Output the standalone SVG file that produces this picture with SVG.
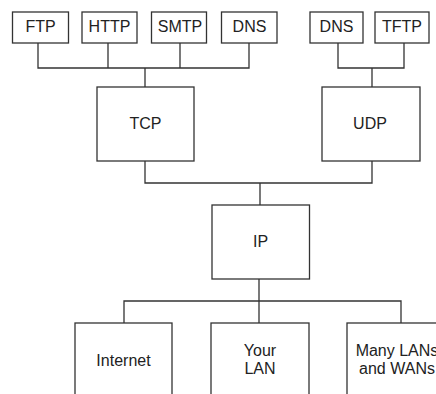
<svg xmlns="http://www.w3.org/2000/svg" width="436" height="394" viewBox="0 0 436 394">
<style>
.box{fill:#fff;stroke:#333;stroke-width:1.3}
.ln{fill:none;stroke:#333;stroke-width:1.3}
text{font-family:"Liberation Sans",Arial,sans-serif;font-size:16px;fill:#222;text-anchor:middle}
</style>
<rect width="436" height="394" fill="#fff"/>
<g id="connectors" class="ln">
<path d="M38 43V68H249V43M108 43V68M180 43V68M145 68V87"/>
<path d="M338 43V68H404V43M372 68V87"/>
<path d="M145 161V183H372V161M260 183V205"/>
<path d="M259 279V323M124 323V301H401V323"/>
</g>
<g id="ftp"><rect class="box" x="12.5" y="12" width="56" height="31"/><text x="40.5" y="32">FTP</text></g>
<g id="http"><rect class="box" x="82" y="12" width="55" height="31"/><text x="109.5" y="32">HTTP</text></g>
<g id="smtp"><rect class="box" x="151.5" y="12" width="55" height="31"/><text x="180" y="32">SMTP</text></g>
<g id="dns1"><rect class="box" x="221.5" y="12" width="55.5" height="31"/><text x="249.5" y="32">DNS</text></g>
<g id="dns2"><rect class="box" x="310" y="12" width="53" height="31"/><text x="336.5" y="32">DNS</text></g>
<g id="tftp"><rect class="box" x="375" y="12" width="54" height="31"/><text x="402" y="32">TFTP</text></g>
<g id="tcp"><rect class="box" x="97" y="87" width="97" height="74"/><text x="145.5" y="129.3">TCP</text></g>
<g id="udp"><rect class="box" x="322" y="87" width="98" height="74"/><text x="370" y="129.3">UDP</text></g>
<g id="ip"><rect class="box" x="212" y="205" width="97.5" height="74"/><text x="260.5" y="247">IP</text></g>
<g id="internet"><rect class="box" x="75" y="323" width="97" height="80"/><text x="123.5" y="366">Internet</text></g>
<g id="yourlan"><rect class="box" x="211" y="323" width="98" height="80"/><text x="260" y="356">Your</text><text x="260" y="374">LAN</text></g>
<g id="many"><rect class="box" x="347" y="323" width="100" height="80"/><text x="397" y="356">Many LANs</text><text x="397" y="374">and WANs</text></g>
</svg>
